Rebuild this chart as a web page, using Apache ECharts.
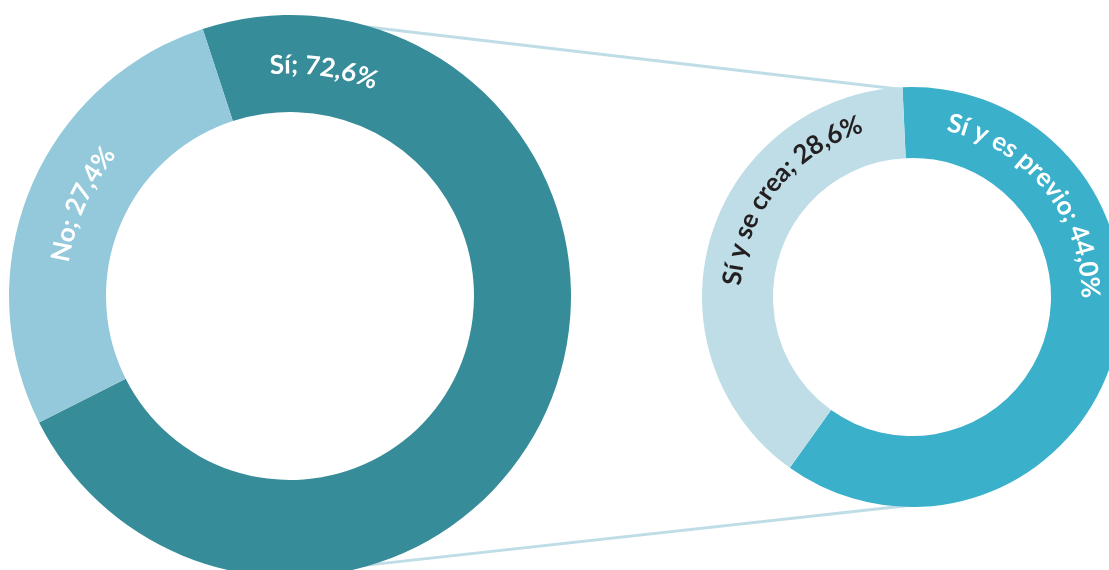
<!DOCTYPE html>
<html><head><meta charset="utf-8">
<script src="https://cdn.jsdelivr.net/npm/echarts@6/dist/echarts.min.js"></script>
<style>html,body{margin:0;padding:0;background:#fff}#c{width:1109px;height:570px}</style>
</head><body><div id="c"></div>
<script>
// ---- data ----
const leftNames = ['Sí', 'No'];
const leftValues = [72.6, 27.4];
const rightNames = ['Sí y es previo', 'Sí y se crea'];
const rightValues = [44.0, 28.6];

// ---- layout & style ----
const L = {cx: 290, cy: 296, r0: 184, r1: 281, start: 108.1};
const R = {cx: 912, cy: 297, r0: 139, r1: 210, start: 92.6};
const leftColors = ['#368C98', '#93C9DB'];
const rightColors = ['#3AB0CA', '#BFDDE7'];
const leftLabelColors = ['#ffffff', '#ffffff'];
const rightLabelColors = ['#ffffff', '#231F20'];
const leftLabelPos = [{ang: 8.5, r: 231}, {ang: 293.8, r: 232}];
const rightLabelPos = [{ang: 51, r: 178}, {ang: 308.7, r: 180}];
const FONT_SIZE = 26, FONT_FAMILY = 'Lato', FONT_WEIGHT = 'bold', LETTER = 0.3;
const LINE_COLOR = '#BFDDE7';

function fmt(v) { return v.toFixed(1).replace('.', ',') + '%'; }
const fontStr = FONT_WEIGHT + ' ' + FONT_SIZE + 'px ' + FONT_FAMILY;
const ctx = document.createElement('canvas').getContext('2d');
ctx.font = fontStr;

function arcText(text, cx, cy, r, midDeg, color) {
  const chars = Array.from(text);
  const widths = chars.map(c => ctx.measureText(c).width);
  const total = widths.reduce((a, b) => a + b, 0) + LETTER * (chars.length - 1);
  const span = total / r;
  const a0 = midDeg * Math.PI / 180 - span / 2;
  const out = [];
  let acc = 0;
  chars.forEach((c, i) => {
    const th = a0 + (acc + widths[i] / 2) / r;
    acc += widths[i] + LETTER;
    out.push({
      type: 'text', x: cx + r * Math.sin(th), y: cy - r * Math.cos(th), rotation: -th,
      silent: true, z: 100,
      style: {text: c, fill: color, font: fontStr, align: 'center', verticalAlign: 'middle'}
    });
  });
  return out;
}
function polar(c, r, deg) {
  const t = deg * Math.PI / 180;
  return [c.cx + r * Math.sin(t), c.cy - r * Math.cos(t)];
}

const graphics = [];
// connector lines
const t1 = polar(L, L.r1 - 4, 10.9), t2 = polar(R, R.r1 - 2, -3.3);
const b1 = polar(L, L.r1 - 4, 168.7), b2 = polar(R, R.r1 - 2, 179.7);
graphics.push({type: 'line', z: 0, silent: true, shape: {x1: t1[0], y1: t1[1], x2: t2[0], y2: t2[1]}, style: {stroke: LINE_COLOR, lineWidth: 3}});
graphics.push({type: 'line', z: 0, silent: true, shape: {x1: b1[0], y1: b1[1], x2: b2[0], y2: b2[1]}, style: {stroke: LINE_COLOR, lineWidth: 3}});

leftNames.forEach((n, i) => {
  graphics.push(...arcText(n + '; ' + fmt(leftValues[i]), L.cx, L.cy, leftLabelPos[i].r, leftLabelPos[i].ang, leftLabelColors[i]));
});
rightNames.forEach((n, i) => {
  graphics.push(...arcText(n + '; ' + fmt(rightValues[i]), R.cx, R.cy, rightLabelPos[i].r, rightLabelPos[i].ang, rightLabelColors[i]));
});

function pieSeries(names, values, colors, C) {
  return {
    type: 'pie', z: 2, center: [C.cx, C.cy], radius: [C.r0, C.r1], startAngle: C.start, clockwise: true,
    silent: true, avoidLabelOverlap: false, label: {show: false}, labelLine: {show: false},
    emphasis: {disabled: true, scale: false},
    itemStyle: {borderWidth: 0},
    data: names.map((n, i) => ({name: n, value: values[i], itemStyle: {color: colors[i]}}))
  };
}

const chart = echarts.init(document.getElementById('c'), null, {renderer: 'canvas'});
chart.setOption({
  animation: false,
  backgroundColor: '#ffffff',
  series: [pieSeries(leftNames, leftValues, leftColors, L), pieSeries(rightNames, rightValues, rightColors, R)],
  graphic: {elements: graphics}
});
</script>
</body></html>
